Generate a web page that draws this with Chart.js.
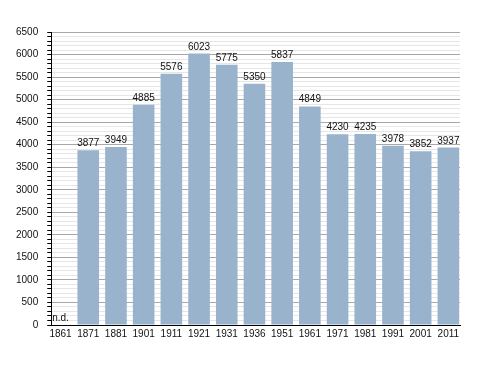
<!DOCTYPE html>
<html>
<head>
<meta charset="utf-8">
<script src="https://cdn.jsdelivr.net/npm/chart.js@4/dist/chart.umd.min.js"></script>
<style>
  html, body { margin: 0; padding: 0; background: #fff; }
  canvas { display: block; }
</style>
</head>
<body>
<canvas id="chart" width="488" height="373"></canvas>
<script>
// census years and population, null where no data
const years = ['1861', '1871', '1881', '1901', '1911', '1921', '1931', '1936', '1951', '1961', '1971', '1981', '1991', '2001', '2011']
const population = [null, 3877, 3949, 4885, 5576, 6023, 5775, 5350, 5837, 4849, 4230, 4235, 3978, 3852, 3937]
const missingLabel = 'n.d.'
const yTicksMajor = 500

const barColor = 'rgb(153,179,205)'
const fontFamily = '"Liberation Sans", Arial, sans-serif'

// value above each bar, "n.d." where missing
const barLabels = {
  id: 'barLabels',
  afterDatasetsDraw(chart) {
    const ctx = chart.ctx
    const xScale = chart.scales.x
    const yScale = chart.scales.y
    ctx.save()
    ctx.font = '10px ' + fontFamily
    ctx.fillStyle = '#111'
    ctx.textAlign = 'center'
    ctx.textBaseline = 'alphabetic'
    population.forEach((v, i) => {
      const x = xScale.getPixelForValue(i)
      const y = yScale.getPixelForValue(v == null ? 0 : v)
      ctx.fillText(v == null ? missingLabel : String(v), x, y - 4)
    })
    ctx.restore()
  }
}

const chart = new Chart(document.getElementById('chart'), {
  type: 'bar',
  data: {
    datasets: [{
      data: population.map((v, i) => ({ x: i, y: v })),
      backgroundColor: barColor,
      borderWidth: 0,
      barPercentage: 0.78,
      categoryPercentage: 1
    }]
  },
  options: {
    responsive: false,
    animation: false,
    layout: { padding: { left: 7, right: 28, top: 32, bottom: 30 } },
    plugins: {
      legend: { display: false },
      tooltip: { enabled: false }
    },
    scales: {
      x: {
        type: 'linear',
        offset: false,
        min: -0.336,
        max: 14.42,
        grid: { display: false, drawTicks: false },
        border: { color: '#000', width: 1 },
        ticks: {
          stepSize: 1,
          autoSkip: false,
          includeBounds: false,
          maxRotation: 0,
          padding: 3,
          color: '#111',
          font: { family: fontFamily, size: 10 },
          callback: (v) => years[v] ?? ''
        }
      },
      y: {
        min: 0,
        max: 6500,
        grid: {
          color: (c) => c.tick.value % yTicksMajor === 0 ? '#a8a8a8' : '#e6e6e6',
          tickColor: '#000',
          tickLength: 4
        },
        border: { color: '#000', width: 1 },
        ticks: {
          stepSize: 100,
          autoSkip: false,
          maxTicksLimit: 100,
          padding: 9,
          color: '#111',
          font: { family: fontFamily, size: 10 },
          callback: (v) => v % yTicksMajor === 0 ? v : ''
        }
      }
    }
  },
  plugins: [barLabels]
})
</script>
</body>
</html>
